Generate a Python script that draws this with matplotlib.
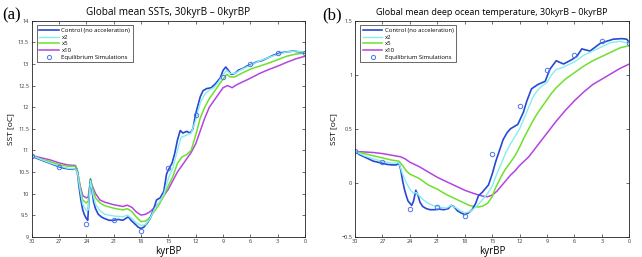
import matplotlib
matplotlib.use("Agg")
import matplotlib.pyplot as plt
from matplotlib.lines import Line2D

# ---------------- Panel (a): global mean SST ----------------
ctrl_a_kyr = [30, 29.5, 29, 28.5, 28, 27.5, 27, 26.5, 26, 25.5, 25.2, 25.0, 24.8, 24.6, 24.4, 24.2,
              24.0, 23.85, 23.7, 23.55, 23.4, 23.2, 23.0, 22.7, 22.3, 22.0, 21.5, 21.0, 20.5, 20.0,
              19.7, 19.4, 19.1, 18.7, 18.3, 18.0, 17.7, 17.3, 17.0, 16.6, 16.3, 15.9, 15.5, 15.2,
              15.0, 14.6, 14.3, 14.0, 13.7, 13.4, 13.0, 12.6, 12.3, 12.0, 11.5, 11.2, 10.8, 10.3,
              9.8, 9.3, 9.0, 8.7, 8.4, 8.1, 7.7, 7.3, 6.8, 6.4, 5.8, 5.3, 4.7, 4.2, 3.5, 2.7, 2.0,
              1.3, 0.6, 0]
ctrl_a_sst = [10.88, 10.82, 10.78, 10.74, 10.70, 10.66, 10.62, 10.59, 10.57, 10.56, 10.58, 10.50,
              10.15, 9.85, 9.62, 9.50, 9.42, 9.38, 9.90, 10.32, 10.10, 9.80, 9.65, 9.52, 9.45, 9.42,
              9.38, 9.38, 9.40, 9.38, 9.42, 9.46, 9.38, 9.30, 9.22, 9.19, 9.22, 9.32, 9.42, 9.65,
              9.85, 9.90, 10.05, 10.45, 10.55, 10.70, 10.93, 11.24, 11.46, 11.40, 11.44, 11.40,
              11.50, 11.85, 12.24, 12.38, 12.43, 12.45, 12.55, 12.68, 12.85, 12.93, 12.85, 12.76,
              12.78, 12.86, 12.90, 12.95, 13.00, 13.05, 13.08, 13.13, 13.20, 13.26, 13.28, 13.30,
              13.28, 13.26]

x2_a_kyr = [30, 29, 28, 27, 26, 25.2, 25.0, 24.7, 24.4, 24.0, 23.8, 23.55, 23.3, 23.0, 22.5, 22,
            21, 20, 19.5, 19, 18.5, 18, 17.5, 17, 16.5, 16, 15.5, 15, 14.5, 14, 13.6, 13, 12.5,
            12, 11.5, 11, 10.5, 10, 9.5, 9, 8.6, 8.2, 7.7, 7, 6, 5, 4, 3, 2, 1, 0]
x2_a_sst = [10.88, 10.79, 10.71, 10.64, 10.58, 10.57, 10.50, 10.10, 9.75, 9.60, 9.62, 10.30, 10.00,
            9.75, 9.60, 9.52, 9.48, 9.46, 9.50, 9.42, 9.32, 9.26, 9.28, 9.42, 9.65, 9.80, 9.98,
            10.35, 10.60, 11.00, 11.30, 11.35, 11.40, 11.70, 12.10, 12.30, 12.40, 12.45, 12.58,
            12.75, 12.85, 12.78, 12.78, 12.87, 12.97, 13.07, 13.15, 13.22, 13.28, 13.30, 13.27]

x5_a_kyr = [30, 29, 28, 27, 26, 25.2, 25.0, 24.7, 24.4, 24.0, 23.8, 23.55, 23.3, 23.0, 22.5, 22,
            21, 20, 19.5, 19, 18.5, 18, 17.5, 17, 16.5, 16, 15.5, 15, 14.5, 14, 13.5, 13, 12.5,
            12, 11.5, 11, 10.5, 10, 9.5, 9, 8.6, 8.2, 7.7, 7, 6, 5, 4, 3, 2, 1, 0]
x5_a_sst = [10.88, 10.80, 10.74, 10.67, 10.63, 10.63, 10.55, 10.15, 9.85, 9.78, 9.82, 10.35, 10.10,
            9.90, 9.78, 9.72, 9.66, 9.62, 9.65, 9.58, 9.45, 9.35, 9.36, 9.45, 9.60, 9.75, 9.95,
            10.18, 10.40, 10.70, 10.85, 10.90, 11.00, 11.35, 11.75, 12.00, 12.20, 12.35, 12.50,
            12.65, 12.76, 12.70, 12.70, 12.78, 12.88, 12.95, 13.02, 13.10, 13.18, 13.23, 13.25]

x10_a_kyr = [30, 29, 28, 27, 26, 25.2, 25.0, 24.7, 24.4, 24.0, 23.8, 23.55, 23.3, 23.0, 22.5, 22,
             21, 20, 19.5, 19, 18.5, 18, 17.5, 17, 16.5, 16, 15.5, 15, 14.5, 14, 13.5, 13, 12.5,
             12, 11.5, 11, 10.5, 10, 9.5, 9, 8.5, 8.0, 7.5, 7, 6, 5, 4, 3, 2, 1, 0]
x10_a_sst = [10.88, 10.83, 10.78, 10.71, 10.66, 10.65, 10.55, 10.20, 9.95, 9.90, 9.92, 10.30, 10.15,
             10.00, 9.85, 9.80, 9.74, 9.70, 9.73, 9.68, 9.57, 9.50, 9.52, 9.58, 9.68, 9.78, 9.95,
             10.10, 10.30, 10.50, 10.65, 10.80, 10.95, 11.15, 11.45, 11.75, 12.00, 12.15, 12.30,
             12.45, 12.50, 12.45, 12.52, 12.57, 12.67, 12.78, 12.87, 12.95, 13.04, 13.12, 13.18]

eq_a_kyr = [30, 27, 24, 21, 18, 15, 12, 9, 6, 3, 0]
eq_a_sst = [10.88, 10.62, 9.30, 9.38, 9.13, 10.60, 11.82, 12.70, 13.00, 13.25, 13.25]

# ---------------- Panel (b): global mean deep ocean temperature ----------------
ctrl_b_kyr = [30, 29.5, 29, 28.5, 28, 27.5, 27, 26.5, 26, 25.5, 25.2, 25.0, 24.8, 24.6, 24.4, 24.2,
              24.0, 23.8, 23.6, 23.35, 23.1, 22.9, 22.6, 22.2, 21.8, 21.3, 20.8, 20.3, 19.8, 19.5,
              19.2, 18.8, 18.4, 18.0, 17.6, 17.2, 16.8, 16.5, 16.1, 15.7, 15.4, 15.0, 14.6, 14.2,
              13.8, 13.4, 13.0, 12.6, 12.2, 11.6, 11.2, 10.7, 10.0, 9.2, 8.7, 8.0, 7.2, 6.3, 5.75,
              5.2, 4.3, 3.2, 2.5, 1.75, 0.8, 0.3, 0]
ctrl_b_t = [0.29, 0.26, 0.24, 0.22, 0.20, 0.19, 0.18, 0.17, 0.165, 0.165, 0.18, 0.12, 0.02, -0.06,
            -0.12, -0.17, -0.19, -0.21, -0.17, -0.07, -0.12, -0.18, -0.22, -0.24, -0.25, -0.25,
            -0.245, -0.25, -0.24, -0.21, -0.22, -0.26, -0.28, -0.295, -0.28, -0.25, -0.19, -0.12,
            -0.09, -0.05, -0.02, 0.08, 0.20, 0.30, 0.40, 0.46, 0.50, 0.52, 0.54, 0.65, 0.76, 0.87,
            0.91, 0.94, 1.05, 1.13, 1.10, 1.14, 1.17, 1.24, 1.22, 1.29, 1.31, 1.33, 1.335, 1.33, 1.30]

x2_b_kyr = [30, 29, 28, 27, 26, 25.2, 24.8, 24.4, 24, 23.6, 23.3, 23, 22.5, 22, 21.5, 21, 20.5, 20,
            19.5, 19, 18.5, 18, 17.5, 17, 16.5, 16, 15.5, 15, 14.5, 14, 13.5, 13, 12.5, 12, 11.5,
            11, 10.5, 10, 9.5, 9, 8.5, 8, 7.5, 7, 6, 5, 4, 3, 2, 1, 0]
x2_b_t = [0.29, 0.25, 0.22, 0.20, 0.18, 0.185, 0.08, 0.00, -0.06, -0.10, -0.09, -0.12, -0.16, -0.19,
          -0.21, -0.22, -0.23, -0.235, -0.21, -0.23, -0.26, -0.28, -0.27, -0.24, -0.20, -0.15,
          -0.10, -0.03, 0.08, 0.18, 0.28, 0.36, 0.43, 0.50, 0.60, 0.70, 0.80, 0.86, 0.90, 0.93,
          1.00, 1.05, 1.06, 1.08, 1.12, 1.18, 1.22, 1.26, 1.30, 1.31, 1.29]

x5_b_kyr = [30, 29, 28, 27, 26, 25.2, 24.8, 24.4, 24, 23.5, 23, 22.5, 22, 21, 20, 19, 18.5, 18,
            17.5, 17, 16.5, 16, 15.5, 15, 14.7, 14, 13.6, 13, 12.5, 12, 11.5, 11, 10.5, 10, 9.5,
            9, 8.5, 8, 7, 6, 5, 4, 3, 2, 1, 0]
x5_b_t = [0.29, 0.27, 0.25, 0.23, 0.21, 0.20, 0.16, 0.11, 0.08, 0.06, 0.04, 0.01, -0.02, -0.06,
          -0.11, -0.15, -0.17, -0.19, -0.21, -0.22, -0.225, -0.215, -0.19, -0.13, -0.06, 0.06,
          0.12, 0.19, 0.25, 0.33, 0.42, 0.50, 0.58, 0.65, 0.71, 0.77, 0.83, 0.88, 0.96, 1.02,
          1.08, 1.13, 1.17, 1.21, 1.25, 1.27]

x10_b_kyr = [30, 29, 28, 27, 26, 25, 24.5, 24, 23, 22, 21, 20, 19, 18, 17, 16, 15.5, 15, 14.5, 14,
             13.5, 13, 12.5, 12, 11, 10, 9, 8, 7, 6, 5, 4, 3, 2, 1, 0]
x10_b_t = [0.29, 0.285, 0.28, 0.27, 0.255, 0.24, 0.22, 0.19, 0.15, 0.10, 0.05, 0.01, -0.03, -0.07,
           -0.10, -0.125, -0.13, -0.115, -0.08, -0.03, 0.02, 0.07, 0.11, 0.16, 0.24, 0.35, 0.46,
           0.57, 0.67, 0.76, 0.84, 0.91, 0.96, 1.01, 1.06, 1.10]

eq_b_kyr = [30, 27, 24, 21, 18, 15, 12, 9, 6, 3, 0]
eq_b_t = [0.29, 0.19, -0.24, -0.225, -0.31, 0.265, 0.715, 1.04, 1.185, 1.315, 1.295]

series_labels = ["Control (no acceleration)", "x2", "x5", "x10", "Equilibrium Simulations"]
xticks = [30, 27, 24, 21, 18, 15, 12, 9, 6, 3, 0]

C_CTRL = "#2848d4"
C_X2 = "#84eef0"
C_X5 = "#6ee02c"
C_X10 = "#b444e0"
C_EQ = "#4f74e6"

plt.rcParams['font.family'] = ['Open Sans', 'DejaVu Sans']

fig = plt.figure(figsize=(6.42, 2.57), dpi=100)
ax_a = fig.add_axes([0.0494, 0.079, 0.4257, 0.840])
ax_b = fig.add_axes([0.553, 0.079, 0.4273, 0.840])


def draw(ax, data, eq, ylim, yticks, ylabels, title, tsize, panel, legend_pos):
    (ck, cv), (k2, v2), (k5, v5), (k10, v10) = data
    ax.plot(k10, v10, color=C_X10, lw=1.1)
    ax.plot(k5, v5, color=C_X5, lw=1.1)
    ax.plot(ck, cv, color=C_CTRL, lw=1.2)
    ax.plot(k2, v2, color=C_X2, lw=1.0)
    ax.plot(eq[0], eq[1], linestyle='none', marker='o', ms=3.2, mfc='none', mec=C_EQ, mew=0.7)
    ax.set_xlim(30, 0)
    ax.set_ylim(*ylim)
    ax.set_xticks(xticks)
    ax.set_xticklabels([str(t) for t in xticks])
    ax.set_yticks(yticks)
    ax.set_yticklabels(ylabels)
    ax.tick_params(direction='in', length=2.5, width=0.5, labelsize=4, colors='#333333',
                   top=True, right=True, pad=2)
    for s in ax.spines.values():
        s.set_linewidth(0.6)
        s.set_color('#222222')
    ax.set_xlabel("kyrBP", fontsize=7, labelpad=1)
    ax.set_ylabel("SST [oC]", fontsize=6, labelpad=3)
    ax.set_title(title, fontsize=tsize, pad=4.5)
    handles = [Line2D([], [], color=C_CTRL, lw=1.2), Line2D([], [], color=C_X2, lw=1.0),
               Line2D([], [], color=C_X5, lw=1.1), Line2D([], [], color=C_X10, lw=1.1),
               Line2D([], [], linestyle='none', marker='o', ms=3, mfc='none', mec=C_EQ, mew=0.7)]
    leg = ax.legend(handles, series_labels, loc='upper left', bbox_to_anchor=legend_pos,
                    fontsize=4.3, frameon=True, fancybox=False, edgecolor='#222222',
                    handlelength=3.3, handletextpad=0.4, borderpad=0.45, labelspacing=0.25,
                    borderaxespad=0.0)
    leg.get_frame().set_linewidth(0.6)
    fig.text(panel[1], 0.97, panel[0], fontsize=12, family='Liberation Serif', va='top', ha='left')


draw(ax_a, [(ctrl_a_kyr, ctrl_a_sst), (x2_a_kyr, x2_a_sst), (x5_a_kyr, x5_a_sst),
            (x10_a_kyr, x10_a_sst)], (eq_a_kyr, eq_a_sst), (9, 14),
     [9, 9.5, 10, 10.5, 11, 11.5, 12, 12.5, 13, 13.5, 14],
     ["9", "9.5", "10", "10.5", "11", "11.5", "12", "12.5", "13", "13.5", "14"],
     "Global mean SSTs, 30kyrB \u2013 0kyrBP", 7.2, ("(a)", 0.003), (0.018, 0.98))

draw(ax_b, [(ctrl_b_kyr, ctrl_b_t), (x2_b_kyr, x2_b_t), (x5_b_kyr, x5_b_t),
            (x10_b_kyr, x10_b_t)], (eq_b_kyr, eq_b_t), (-0.5, 1.5),
     [-0.5, 0, 0.5, 1, 1.5], ["\u22120.5", "0", "0.5", "1", "1.5"],
     "Global mean deep ocean temperature, 30kyrB \u2013 0kyrBP", 6.5, ("(b)", 0.502), (0.018, 0.98))

fig.savefig("out.png", dpi=100)
